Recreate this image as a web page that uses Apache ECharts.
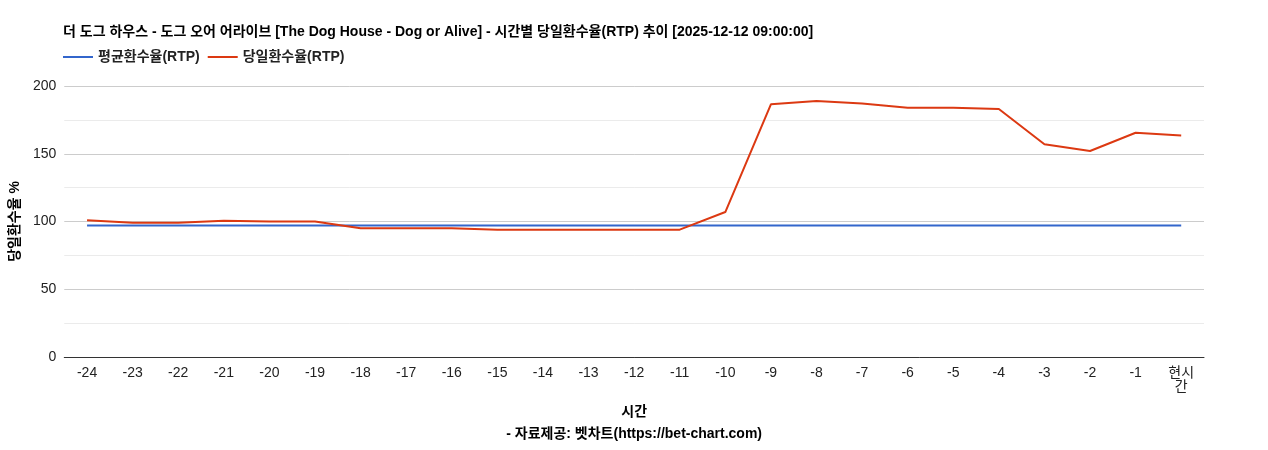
<!DOCTYPE html><html><head><meta charset="utf-8"><script src="https://cdn.jsdelivr.net/npm/echarts@6/dist/echarts.min.js"></script></head><body style="margin:0"><div id="c" style="width:1268px;height:450px"></div><script>
const categories=['-24','-23','-22','-21','-20','-19','-18','-17','-16','-15','-14','-13','-12','-11','-10','-9','-8','-7','-6','-5','-4','-3','-2','-1','현시\n간'];
const avgRtp=[97,97,97,97,97,97,97,97,97,97,97,97,97,97,97,97,97,97,97,97,97,97,97,97,97];
const dayRtp=[101,99,99,100.5,100,100,95,95,95,94,94,94,94,94,107,186.5,189,187,184,184,183,157,152,165.5,163.5];
const c=echarts.init(document.getElementById('c'));
const F='"Liberation Sans","Noto Sans CJK KR",sans-serif';
c.setOption({textStyle:{fontFamily:F},
title:{text:'더 도그 하우스 - 도그 오어 어라이브 [The Dog House - Dog or Alive] - 시간별 당일환수율(RTP) 추이 [2025-12-12 09:00:00]',left:58,top:20,textStyle:{fontSize:14,fontWeight:'bold',color:'#000',fontFamily:F}},
legend:{left:58,top:45,itemWidth:30,itemHeight:2,icon:'rect',textStyle:{fontSize:14,fontWeight:'bold',color:'#222'},data:['평균환수율(RTP)','당일환수율(RTP)']},
grid:{left:64,right:64,top:86,bottom:87},
xAxis:{type:'category',data:categories,boundaryGap:true,name:'시간\n- 자료제공: 벳차트(https://bet-chart.com)',nameLocation:'middle',nameGap:44,nameTextStyle:{fontSize:14,fontWeight:'bold',color:'#000',lineHeight:22},axisTick:{show:false},axisLine:{lineStyle:{color:'#333'}},axisLabel:{color:'#222',fontSize:14,interval:0,margin:9}},
yAxis:{type:'value',min:0,max:200,interval:25,name:'당일환수율 %',nameLocation:'middle',nameGap:38,nameTextStyle:{fontSize:14,fontWeight:'bold',color:'#000'},axisLabel:{color:'#222',fontSize:14,formatter:v=>v%50===0?v:''},splitLine:{lineStyle:{color:['#ccc','#ebebeb']}}},
series:[{name:'평균환수율(RTP)',type:'line',data:avgRtp,symbol:'none',lineStyle:{color:'#3366cc',width:2},itemStyle:{color:'#3366cc'}},
{name:'당일환수율(RTP)',type:'line',data:dayRtp,symbol:'none',lineStyle:{color:'#dc3912',width:2},itemStyle:{color:'#dc3912'}}]});
</script></body></html>
